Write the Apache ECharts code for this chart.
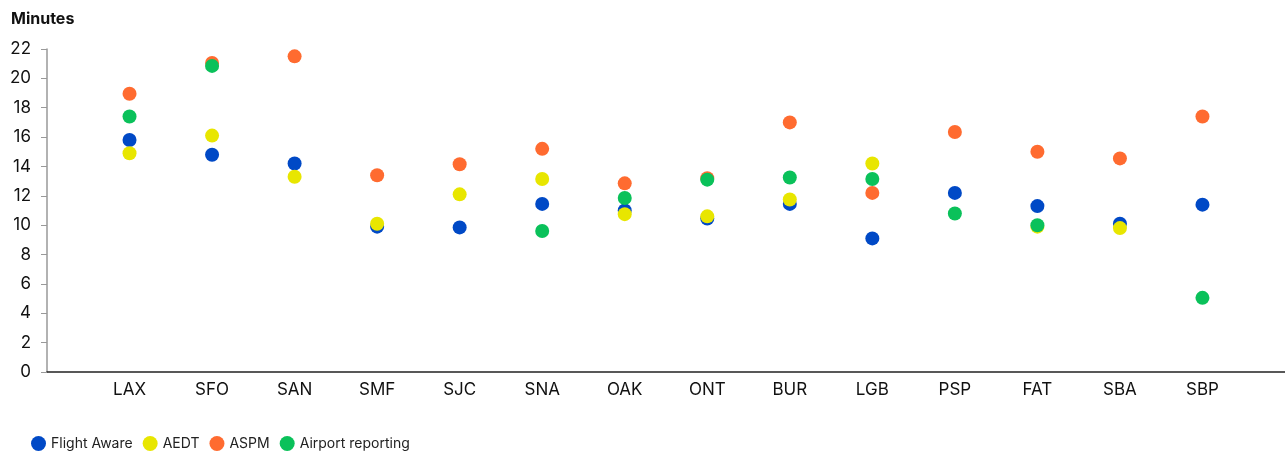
<!DOCTYPE html>
<html>
<head>
<meta charset="utf-8">
<script src="https://cdn.jsdelivr.net/npm/echarts@6/dist/echarts.min.js"></script>
<style>
  html, body { margin: 0; padding: 0; background: #fff; }
  #chart { width: 1285px; height: 455px; }
</style>
</head>
<body>
<div id="chart"></div>
<script>
// Airports along the x axis
const airports = ['LAX', 'SFO', 'SAN', 'SMF', 'SJC', 'SNA', 'OAK', 'ONT', 'BUR', 'LGB', 'PSP', 'FAT', 'SBA', 'SBP'];

// Minutes per source (null = no value reported)
const flightAware      = [15.8, 14.8, 14.2, 9.9, 9.85, 11.45, 11.0, 10.45, 11.45, 9.1, 12.2, 11.3, 10.1, 11.4];
const aedt             = [14.9, 16.1, 13.3, 10.1, 12.1, 13.15, 10.75, 10.6, 11.75, 14.2, null, 9.9, 9.8, null];
const aspm             = [18.95, 21.05, 21.5, 13.4, 14.15, 15.2, 12.85, 13.2, 17.0, 12.2, 16.35, 15.0, 14.55, 17.4];
const airportReporting = [17.4, 20.85, null, null, null, 9.6, 11.85, 13.1, 13.25, 13.15, 10.8, 10.0, null, 5.05];

const yTicks = { min: 0, max: 22, interval: 2 };

const seriesDefs = [
  { name: 'Flight Aware', values: flightAware, color: '#0049C6' },
  { name: 'AEDT', values: aedt, color: '#E8E600' },
  { name: 'ASPM', values: aspm, color: '#FF6B30' },
  { name: 'Airport reporting', values: airportReporting, color: '#0AC15A' }
];

// Blank slots at both ends keep the airports off the axis edges
const axisCategories = [''].concat(airports, ['']);

const fontFamily = 'Inter, "Noto Sans", sans-serif';

const chart = echarts.init(document.getElementById('chart'), null, { renderer: 'canvas' });

chart.setOption({
  animation: false,
  textStyle: { fontFamily: fontFamily },
  title: {
    text: 'Minutes',
    left: 6,
    top: 6,
    textStyle: { fontSize: 16, fontWeight: 'bold', color: '#111', fontFamily: fontFamily }
  },
  legend: {
    left: 26,
    top: 431,
    icon: 'circle',
    itemWidth: 15,
    itemHeight: 15,
    itemGap: 10,
    textStyle: { fontSize: 14, color: '#222' },
    data: seriesDefs.map(s => s.name)
  },
  grid: {
    left: 47, right: 0, top: 49, bottom: 83,
    containLabel: false,
    outerBoundsMode: 'none'
  },
  xAxis: {
    type: 'category',
    boundaryGap: false,
    data: axisCategories,
    axisLine: { lineStyle: { color: '#222', width: 1.5 } },
    axisTick: { show: false },
    axisLabel: { fontSize: 17, color: '#111', margin: 9, interval: 0 },
    splitLine: { show: false }
  },
  yAxis: {
    type: 'value',
    min: yTicks.min,
    max: yTicks.max,
    interval: yTicks.interval,
    axisLine: { show: true, lineStyle: { color: '#999', width: 1.5 } },
    axisTick: { show: true, length: 6, lineStyle: { color: '#999' } },
    axisLabel: { fontSize: 17, color: '#111', margin: 16 },
    splitLine: { show: false }
  },
  series: seriesDefs.map(s => ({
    name: s.name,
    type: 'scatter',
    symbol: 'circle',
    symbolSize: 14,
    itemStyle: { color: s.color, opacity: 1 },
    data: [null].concat(s.values, [null])
  }))
});
</script>
</body>
</html>
